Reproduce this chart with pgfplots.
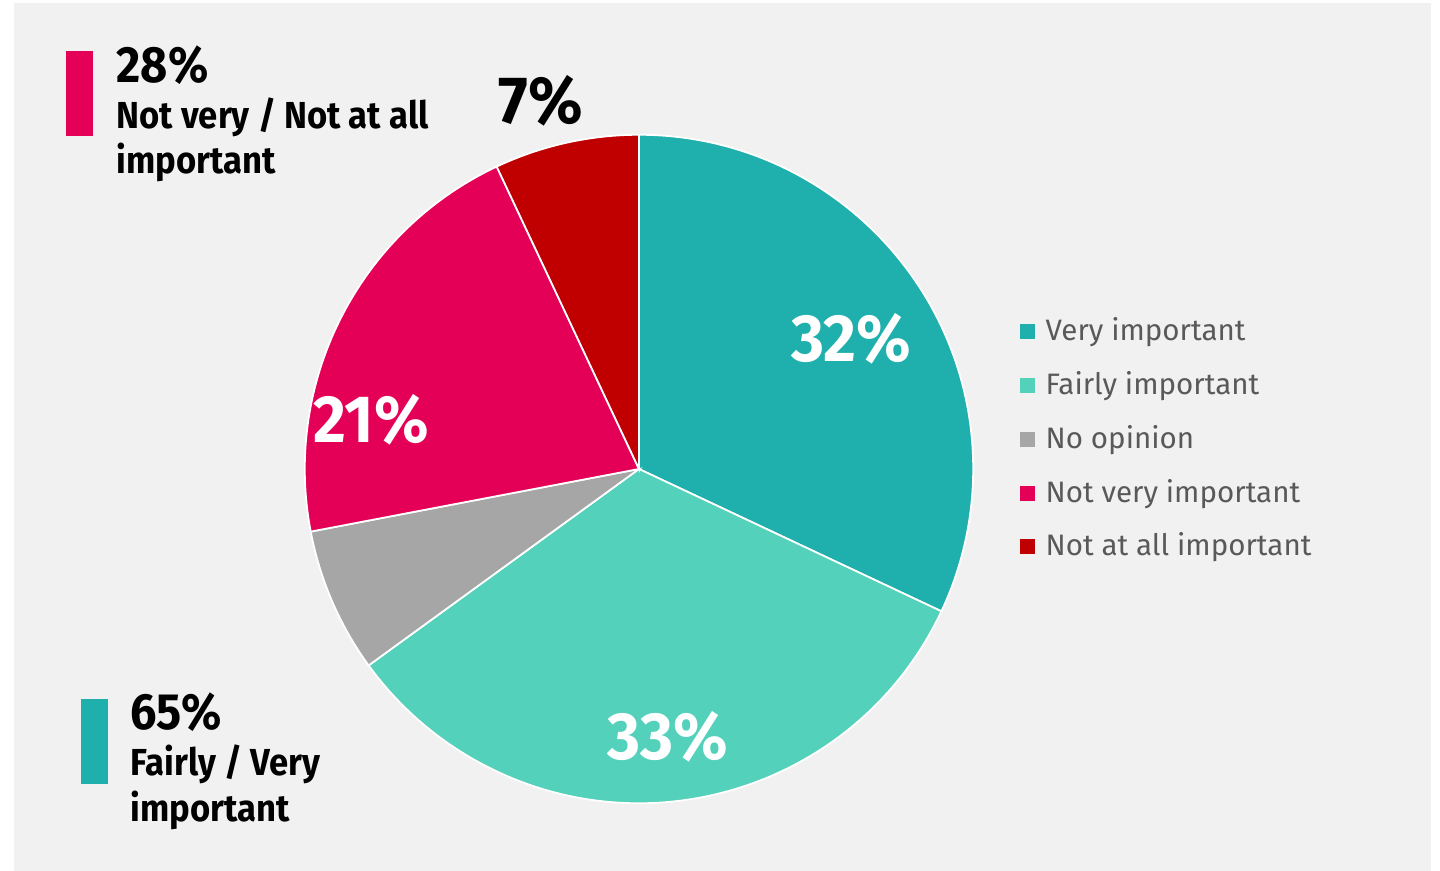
\documentclass[border=0pt]{standalone}
\usepackage{pgfplots}
\usepackage{pgfplotstable}
\pgfplotsset{compat=1.18}
\usepackage{fontspec}
\setmainfont{Fira Sans}
\newfontfamily\narrowA{Fira Sans}[FakeStretch=0.92]
\newfontfamily\narrowB{Fira Sans}[FakeStretch=0.95]
\definecolor{bgc}{HTML}{F1F1F1}
\definecolor{cVery}{HTML}{1FAFAD}
\definecolor{cFair}{HTML}{53D1BB}
\definecolor{cNo}{HTML}{A6A6A6}
\definecolor{cNotVery}{HTML}{E40057}
\definecolor{cNotAll}{HTML}{C00000}
\definecolor{legtext}{HTML}{595959}
\pgfplotstableread{
label val col
Very 32 cVery
Fairly 33 cFair
NoOpinion 7 cNo
NotVery 21 cNotVery
NotAtAll 7 cNotAll
}\piedata
\begin{document}
\begin{tikzpicture}
\begin{axis}[x=0.01cm,y=0.01cm,xmin=0,xmax=1440,ymin=0,ymax=871,hide axis,scale only axis,clip=false]
\fill[white] (axis cs:0,0) rectangle (axis cs:1440,871);
\fill[bgc] (axis cs:14,0) rectangle (axis cs:1431,868);
\def\startang{90}
\pgfplotsforeachungrouped \i in {0,...,4}{%
  \pgfplotstablegetelem{\i}{val}\of\piedata\let\sliceval\pgfplotsretval
  \pgfplotstablegetelem{\i}{col}\of\piedata\let\slicecol\pgfplotsretval
  \pgfmathsetmacro\endang{\startang-3.6*\sliceval}%
  \edef\temp{\noexpand\filldraw[fill=\slicecol,draw=white,line width=0.5pt] (axis cs:639,402) -- ++(\startang:3.34cm) arc[start angle=\startang,end angle=\endang,radius=3.34cm] -- cycle;}%
  \temp
  \let\startang\endang
}
% slice labels
\node[anchor=base,inner sep=0pt,text=white,font=\narrowB\fontsize{19pt}{19pt}\selectfont\bfseries] at (axis cs:851,509) {32\%};
\node[anchor=base,inner sep=0pt,text=white,font=\narrowB\fontsize{19pt}{19pt}\selectfont\bfseries] at (axis cs:668,111) {33\%};
\node[anchor=base,inner sep=0pt,text=white,font=\narrowB\fontsize{19pt}{19pt}\selectfont\bfseries] at (axis cs:371,428) {21\%};
\node[anchor=base,inner sep=0pt,text=black,font=\narrowB\fontsize{19pt}{19pt}\selectfont\bfseries] at (axis cs:541,747) {7\%};
% summary boxes
\fill[cNotVery] (axis cs:66,735) rectangle (axis cs:93,820);
\node[anchor=base west,inner sep=0pt,font=\narrowA\fontsize{14.5pt}{14.5pt}\selectfont\bfseries] at (axis cs:116,788) {28\%};
\node[anchor=base west,inner sep=0pt,font=\narrowA\fontsize{10.7pt}{10.7pt}\selectfont\bfseries] at (axis cs:116,742) {Not very / Not at all};
\node[anchor=base west,inner sep=0pt,font=\narrowA\fontsize{10.7pt}{10.7pt}\selectfont\bfseries] at (axis cs:116,697) {important};
\fill[cVery] (axis cs:81,87) rectangle (axis cs:108,172);
\node[anchor=base west,inner sep=0pt,font=\narrowA\fontsize{14.5pt}{14.5pt}\selectfont\bfseries] at (axis cs:130,141) {65\%};
\node[anchor=base west,inner sep=0pt,font=\narrowA\fontsize{10.7pt}{10.7pt}\selectfont\bfseries] at (axis cs:130,95) {Fairly / Very};
\node[anchor=base west,inner sep=0pt,font=\narrowA\fontsize{10.7pt}{10.7pt}\selectfont\bfseries] at (axis cs:130,49) {important};
% legend
\foreach \c/\t/\y in {cVery/Very important/530,cFair/Fairly important/476,cNo/No opinion/422,cNotVery/Not very important/368,cNotAll/Not at all important/315}{
  \edef\temp{\noexpand\fill[\c] (axis cs:1020,\y+2) rectangle (axis cs:1035,\y+17);
  \noexpand\node[anchor=base west,inner sep=0pt,text=legtext,font=\noexpand\fontsize{8.4pt}{8.4pt}\noexpand\selectfont] at (axis cs:1045,\y) {\t};}
  \temp
}
\end{axis}
\end{tikzpicture}
\end{document}
